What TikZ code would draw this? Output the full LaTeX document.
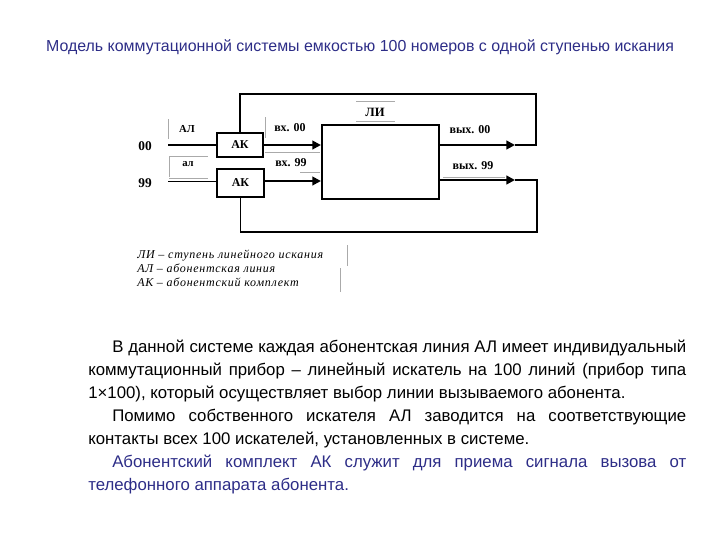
\documentclass[tikz,border=0pt]{standalone}
\usepackage{fontspec}
\setmainfont{Liberation Serif}
\setsansfont{Liberation Sans}
\usetikzlibrary{arrows.meta}
\definecolor{tblue}{RGB}{45,45,135}
\definecolor{fgray}{RGB}{170,170,170}
\tikzset{
  box/.style={draw, line width=1.6pt, inner sep=0pt, font=\bfseries\fontsize{9}{10}\selectfont},
  lbl/.style={inner sep=0pt, font=\bfseries\fontsize{9}{10}\selectfont},
  slbl/.style={inner sep=0pt, font=\bfseries\fontsize{8}{9}\selectfont},
  nlbl/.style={inner sep=0pt, font=\bfseries\fontsize{10}{11}\selectfont},
  wire/.style={line width=1.8pt},
  thinwire/.style={line width=1.3pt},
  arr/.style={line width=1.6pt, -{Triangle[length=6.5pt,width=6.5pt]}},
  ghost/.style={draw=fgray, line width=0.5pt},
  leg/.style={inner sep=0pt, anchor=base west, font=\itshape\fontsize{9}{10}\selectfont\addfontfeatures{LetterSpace=6}},
}
\begin{document}
\begin{tikzpicture}[x=0.75pt,y=-0.75pt]
\useasboundingbox (0,0) rectangle (720,540);
% title
\node[inner sep=0pt, text=tblue, font=\sffamily\fontsize{11.95}{13}\selectfont] (title) at (360,47) {Модель коммутационной системы емкостью 100 номеров с одной ступенью искания};
% ghost text-box borders
\draw[ghost] (168,119) -- (168,139);
\draw[ghost] (265,117) -- (265,138);
\draw[ghost] (169,177) -- (169,156) -- (208,156);
\draw[ghost] (169,178) -- (208,178);
\draw[ghost] (265,152) -- (320,152);
\draw[ghost] (300,172) -- (320,172);
\draw[ghost] (356,101) -- (395,101);
\draw[ghost] (356,121) -- (395,121);
\draw[ghost] (443,177) -- (505,177);
\draw[ghost] (347,245) -- (347,266);
\draw[ghost] (340,268) -- (340,292);
% boxes
\node[box, minimum width=34.5pt, minimum height=18pt] (ak1) at (240,145) {АК};
\node[box, minimum width=35pt, minimum height=21pt] (ak2) at (240.5,183) {АК};
\node[box, minimum width=87.75pt, minimum height=55.5pt] (li) at (380.5,162) {};
% labels
\node[nlbl] (n00) at (145,146) {00};
\node[nlbl] (n99) at (145,183) {99};
\node[slbl] (al1) at (187,129) {АЛ};
\node[slbl] (al2) at (188,164) {ал};
\node[lbl] (vx00) at (290,128) {вх. 00};
\node[lbl] (vx99) at (291,163) {вх. 99};
\node[lbl] (vyx00) at (470,130) {вых. 00};
\node[lbl] (vyx99) at (473,166) {вых. 99};
\node[inner sep=0pt, font=\bfseries\fontsize{9.5}{10}\selectfont] (liname) at (375,112) {ЛИ};
% wiring
\coordinate (in00) at (168,145);
\coordinate (in99) at (168,181);
\coordinate (o00) at (515,145);
\coordinate (o99) at (515,180);
\coordinate (r00) at (536,145);
\coordinate (r99) at (537,180);
\draw[wire] (in00) -- (ak1.west);
\draw[line width=0.7pt] (in99) -- (in99 -| ak2.west);
\draw[arr] (ak1.east) -- (li.west |- ak1.east);
\draw[arr] (ak2.east |- in99) -- (li.west |- in99);
\draw[arr] (li.east |- o00) -- (o00);
\draw[arr] (li.east |- o99) -- (o99);
\draw[wire] (o00) -- (r00) -- (536,94) -| (ak1.north);
\draw[thinwire] (o99) -- (r99) -- (537,232) -| (ak2.south);
% legend
\node[leg] (leg1) at (137,258) {ЛИ – ступень линейного искания};
\node[leg] (leg2) at (137,272) {АЛ – абонентская линия};
\node[leg] (leg3) at (137,286) {АК – абонентский комплект};
% paragraph
\node[inner sep=0pt, anchor=north west, text width=448.5pt, align=justify,
      font=\sffamily\fontsize{12.6}{17.25}\selectfont] (para) at (88,340) {%
\hspace*{18pt}В данной системе каждая абонентская линия АЛ имеет индивидуальный коммутационный прибор – линейный искатель на 100 линий (прибор типа 1×100), который осуществляет выбор линии вызываемого абонента.\par
\hspace*{18pt}Помимо собственного искателя АЛ заводится на соответствующие контакты всех 100 искателей, установленных в системе.\par
\color{tblue}\hspace*{18pt}Абонентский комплект АК служит для приема сигнала вызова от телефонного аппарата абонента.};
\end{tikzpicture}
\end{document}
